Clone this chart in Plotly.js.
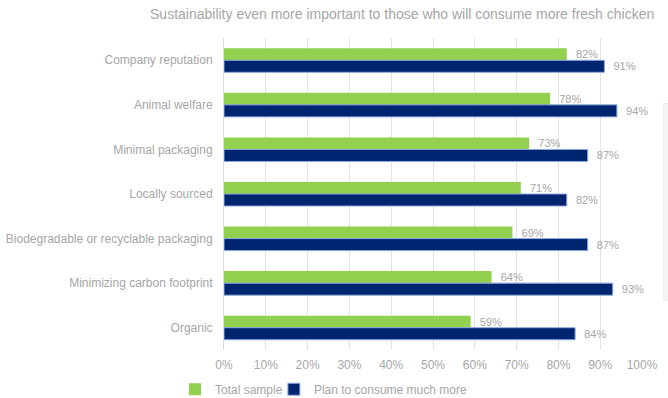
<!DOCTYPE html>
<html>
<head>
<meta charset="utf-8">
<script src="https://cdn.plot.ly/plotly-3.0.1.min.js"></script>
<style>html,body{margin:0;padding:0;background:#fff;}#chart{width:668px;height:398px;}</style>
</head>
<body>
<div id="chart"></div>
<script>
const categories = ["Company reputation","Animal welfare","Minimal packaging","Locally sourced","Biodegradable or recyclable packaging","Minimizing carbon footprint","Organic"];
const totalSample = [82,78,73,71,69,64,59];
const planMore = [91,94,87,82,87,93,84];
const seriesNames = ["Total sample","Plan to consume much more"];
const xTickVals = [0,10,20,30,40,50,60,70,80,90,100];
const xTickText = ["0%","10%","20%","30%","40%","50%","60%","70%","80%","90%","100%"];
const titleText = "Sustainability even more important to those who will consume more fresh chicken";

const gray = "#a6a6a6";
const font = "Liberation Sans, Arial, sans-serif";

const traces = [
  {type:"bar", orientation:"h", name:seriesNames[0], y:categories, x:totalSample, legend:"legend", showlegend:true,
   marker:{color:"#92d050"}, text:totalSample.map(v=>"\u00a0\u00a0"+v+"%"), textposition:"outside",
   textfont:{color:gray,size:11,family:font}, cliponaxis:false, hoverinfo:"x+y"},
  {type:"bar", orientation:"h", name:seriesNames[1], y:categories, x:planMore, legend:"legend2", showlegend:true,
   marker:{color:"#002570", line:{color:"#8ea9db", width:1}}, text:planMore.map(v=>"\u00a0\u00a0"+v+"%"), textposition:"outside",
   textfont:{color:gray,size:11,family:font}, cliponaxis:false, hoverinfo:"x+y"}
];

function legendAt(x) {
  return {visible:true, orientation:"h", xref:"container", yref:"container", x:x, y:0.022, xanchor:"left", yanchor:"middle",
          font:{size:12,color:gray,family:font}, itemwidth:30, bgcolor:"rgba(255,255,255,0)"};
}

const layout = {
  width:668, height:398, showlegend:true,
  margin:{l:224, r:26, t:38, b:48, pad:0},
  paper_bgcolor:"#fff", plot_bgcolor:"#fff",
  font:{family:font, color:gray, size:12},
  title:{text:titleText, font:{size:14, color:gray, family:font}, xref:"container", x:0.602, xanchor:"center", yref:"container", y:0.965, yanchor:"middle"},
  barmode:"group", bargap:0.46, bargroupgap:0,
  xaxis:{range:[0,100], tickvals:xTickVals, ticktext:xTickText, showgrid:true, gridcolor:"#e3e3e3", gridwidth:1,
         zeroline:false, showline:false, ticks:"", tickfont:{size:12,color:gray,family:font}, fixedrange:true, ticklabelstandoff:6},
  yaxis:{autorange:"reversed", showgrid:false, zeroline:false, showline:true, linecolor:"#d9d9d9", ticks:"",
         tickfont:{size:12,color:gray,family:font}, ticklabelstandoff:8, fixedrange:true},
  legend:legendAt(0.262),
  legend2:legendAt(0.410),
  shapes:[{type:"rect", xref:"paper", yref:"paper", x0:1.052, x1:1.1, y0:0.16, y1:0.79,
           fillcolor:"#f5f5f5", line:{color:"#ececec", width:1}, layer:"below"}]
};

Plotly.newPlot("chart", traces, layout, {displayModeBar:false, staticPlot:true});
</script>
</body>
</html>
